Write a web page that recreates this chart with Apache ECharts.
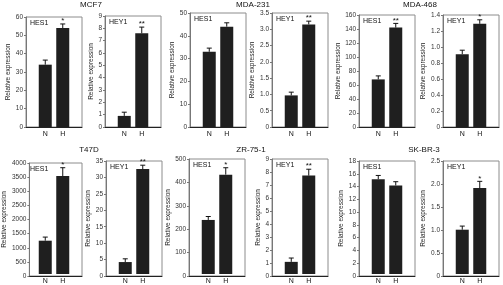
<!DOCTYPE html>
<html><head><meta charset="utf-8">
<script src="https://cdn.jsdelivr.net/npm/echarts@6/dist/echarts.min.js"></script>
<style>html,body{margin:0;padding:0;background:#fff}#c{width:503px;height:285px}</style>
</head><body><div id="c"></div>
<script>
// ---- data ----
const cellLines = ['MCF7', 'MDA-231', 'MDA-468', 'T47D', 'ZR-75-1', 'SK-BR-3'];
const genes = ['HES1', 'HEY1'];
const categories = ['N', 'H'];
// panels: row 1 = MCF7 HES1, MCF7 HEY1, MDA-231 HES1, MDA-231 HEY1, MDA-468 HES1, MDA-468 HEY1; row 2 likewise
const meanValues = [[34, 54], [0.9, 7.6], [33, 44], [0.97, 3.15], [68, 142], [0.91, 1.29],
                    [1200, 3530], [3.7, 32.5], [235, 432], [0.95, 7.7], [15.1, 14.1], [0.98, 1.9]];
const errorValues = [[2.5, 2.2], [0.3, 0.5], [1.6, 1.7], [0.1, 0.1], [5, 6], [0.05, 0.05],
                     [130, 300], [1.0, 1.2], [15, 30], [0.3, 0.5], [0.6, 0.6], [0.08, 0.15]];
const significance = [['', '*'], ['', '**'], ['', ''], ['', '**'], ['', '**'], ['', '*'],
                      ['', '*'], ['', '**'], ['', '*'], ['', '**'], ['', ''], ['', '*']];
const yMax = [60, 9, 50, 3.5, 160, 1.4, 4000, 35, 500, 9, 18, 2.5];
const yStep = [10, 1, 10, 0.5, 20, 0.2, 500, 5, 100, 1, 2, 0.5];
const yDecimals = [0, 0, 0, 1, 0, 1, 0, 0, 0, 0, 0, 1];
const yAxisName = 'Relative expression';

// ---- layout ----
const layout = [
  {l: 26, t: 17, b: 127}, {l: 105, t: 16, b: 127}, {l: 190, t: 13, b: 127}, {l: 272, t: 13, b: 127}, {l: 359, t: 15, b: 127}, {l: 443, t: 15, b: 127},
  {l: 26, t: 163, b: 276}, {l: 106, t: 161, b: 276}, {l: 189, t: 159, b: 276}, {l: 272, t: 159, b: 276}, {l: 359, t: 161, b: 276}, {l: 443, t: 161, b: 276}
];
const titlePos = [{x: 91, y: 1}, {x: 253, y: 1}, {x: 420, y: 1}, {x: 89, y: 146}, {x: 251, y: 146}, {x: 424, y: 146}];
const W = 56, INNER = 35;
const FONT = 'Liberation Sans, Arial, sans-serif';

const grid = [], xAxis = [], yAxis = [], series = [], title = [];

cellLines.forEach((name, k) => {
  title.push({text: name, left: titlePos[k].x, top: titlePos[k].y, textAlign: 'center', padding: 0,
    textStyle: {fontSize: 8, fontWeight: 'normal', color: '#111', fontFamily: FONT}});
});

layout.forEach((p, i) => {
  const h = p.b - p.t;
  const g0 = grid.length;
  grid.push({left: p.l, top: p.t, width: W, height: h, show: true, borderColor: '#8c8c8c', borderWidth: 1, backgroundColor: 'transparent'});
  grid.push({left: p.l + (W - INNER) / 2, top: p.t, width: INNER, height: h});
  const maxLabel = String(yMax[i].toFixed(yDecimals[i])).length;
  xAxis.push({gridIndex: g0, type: 'category', data: [''], axisLabel: {show: false}, axisTick: {show: false},
    axisLine: {show: true, lineStyle: {color: '#222', width: 1}}, splitLine: {show: false}});
  yAxis.push({gridIndex: g0, type: 'value', min: 0, max: yMax[i], interval: yStep[i],
    axisLine: {show: true, lineStyle: {color: '#777', width: 1}},
    axisTick: {show: true, length: 2, lineStyle: {color: '#777'}},
    splitLine: {show: false},
    axisLabel: {fontSize: 6.5, color: '#333', margin: 3, fontFamily: FONT,
      formatter: v => v === 0 ? '0' : v.toFixed(yDecimals[i])},
    name: yAxisName, nameLocation: 'middle', nameGap: 6 + maxLabel * 3.4,
    nameTextStyle: {fontSize: 6.5, color: '#222', fontFamily: FONT}});
  xAxis.push({gridIndex: g0 + 1, type: 'category', data: categories,
    axisLine: {show: false}, axisTick: {show: false},
    axisLabel: {fontSize: 7, color: '#111', margin: 4, fontFamily: FONT}});
  yAxis.push({gridIndex: g0 + 1, type: 'value', min: 0, max: yMax[i], show: false});
  title.push({text: genes[i % 2], left: p.l + 4, top: p.t + 3, padding: 0,
    textStyle: {fontSize: 7, fontWeight: 'normal', color: '#111', fontFamily: FONT}});

  series.push({type: 'bar', xAxisIndex: g0 + 1, yAxisIndex: g0 + 1, data: meanValues[i],
    barWidth: 13, itemStyle: {color: '#1f1f1f'}, silent: true, animation: false, z: 3});
  series.push({type: 'custom', xAxisIndex: g0 + 1, yAxisIndex: g0 + 1, silent: true, animation: false, z: 4,
    data: categories.map((c, j) => [j, meanValues[i][j], errorValues[i][j]]),
    renderItem: (params, api) => {
      const x = api.value(0), m = api.value(1), e = api.value(2);
      const p0 = api.coord([x, m]);
      const p1 = api.coord([x, m + e]);
      const cap = 2.5;
      const ch = [
        {type: 'line', shape: {x1: p0[0], y1: p0[1], x2: p1[0], y2: p1[1]}, style: {stroke: '#111', lineWidth: 1}},
        {type: 'line', shape: {x1: p1[0] - cap, y1: p1[1], x2: p1[0] + cap, y2: p1[1]}, style: {stroke: '#111', lineWidth: 1}}
      ];
      const s = significance[i][params.dataIndex];
      if (s) ch.push({type: 'text', style: {text: s, x: p1[0], y: p1[1] + 1, align: 'center', verticalAlign: 'bottom',
        fontSize: 8, fill: '#111', fontFamily: FONT}});
      return {type: 'group', children: ch};
    }});
});

const chart = echarts.init(document.getElementById('c'), null, {renderer: 'canvas'});
chart.setOption({animation: false, backgroundColor: '#fff', title, grid, xAxis, yAxis, series});
</script>
</body></html>
